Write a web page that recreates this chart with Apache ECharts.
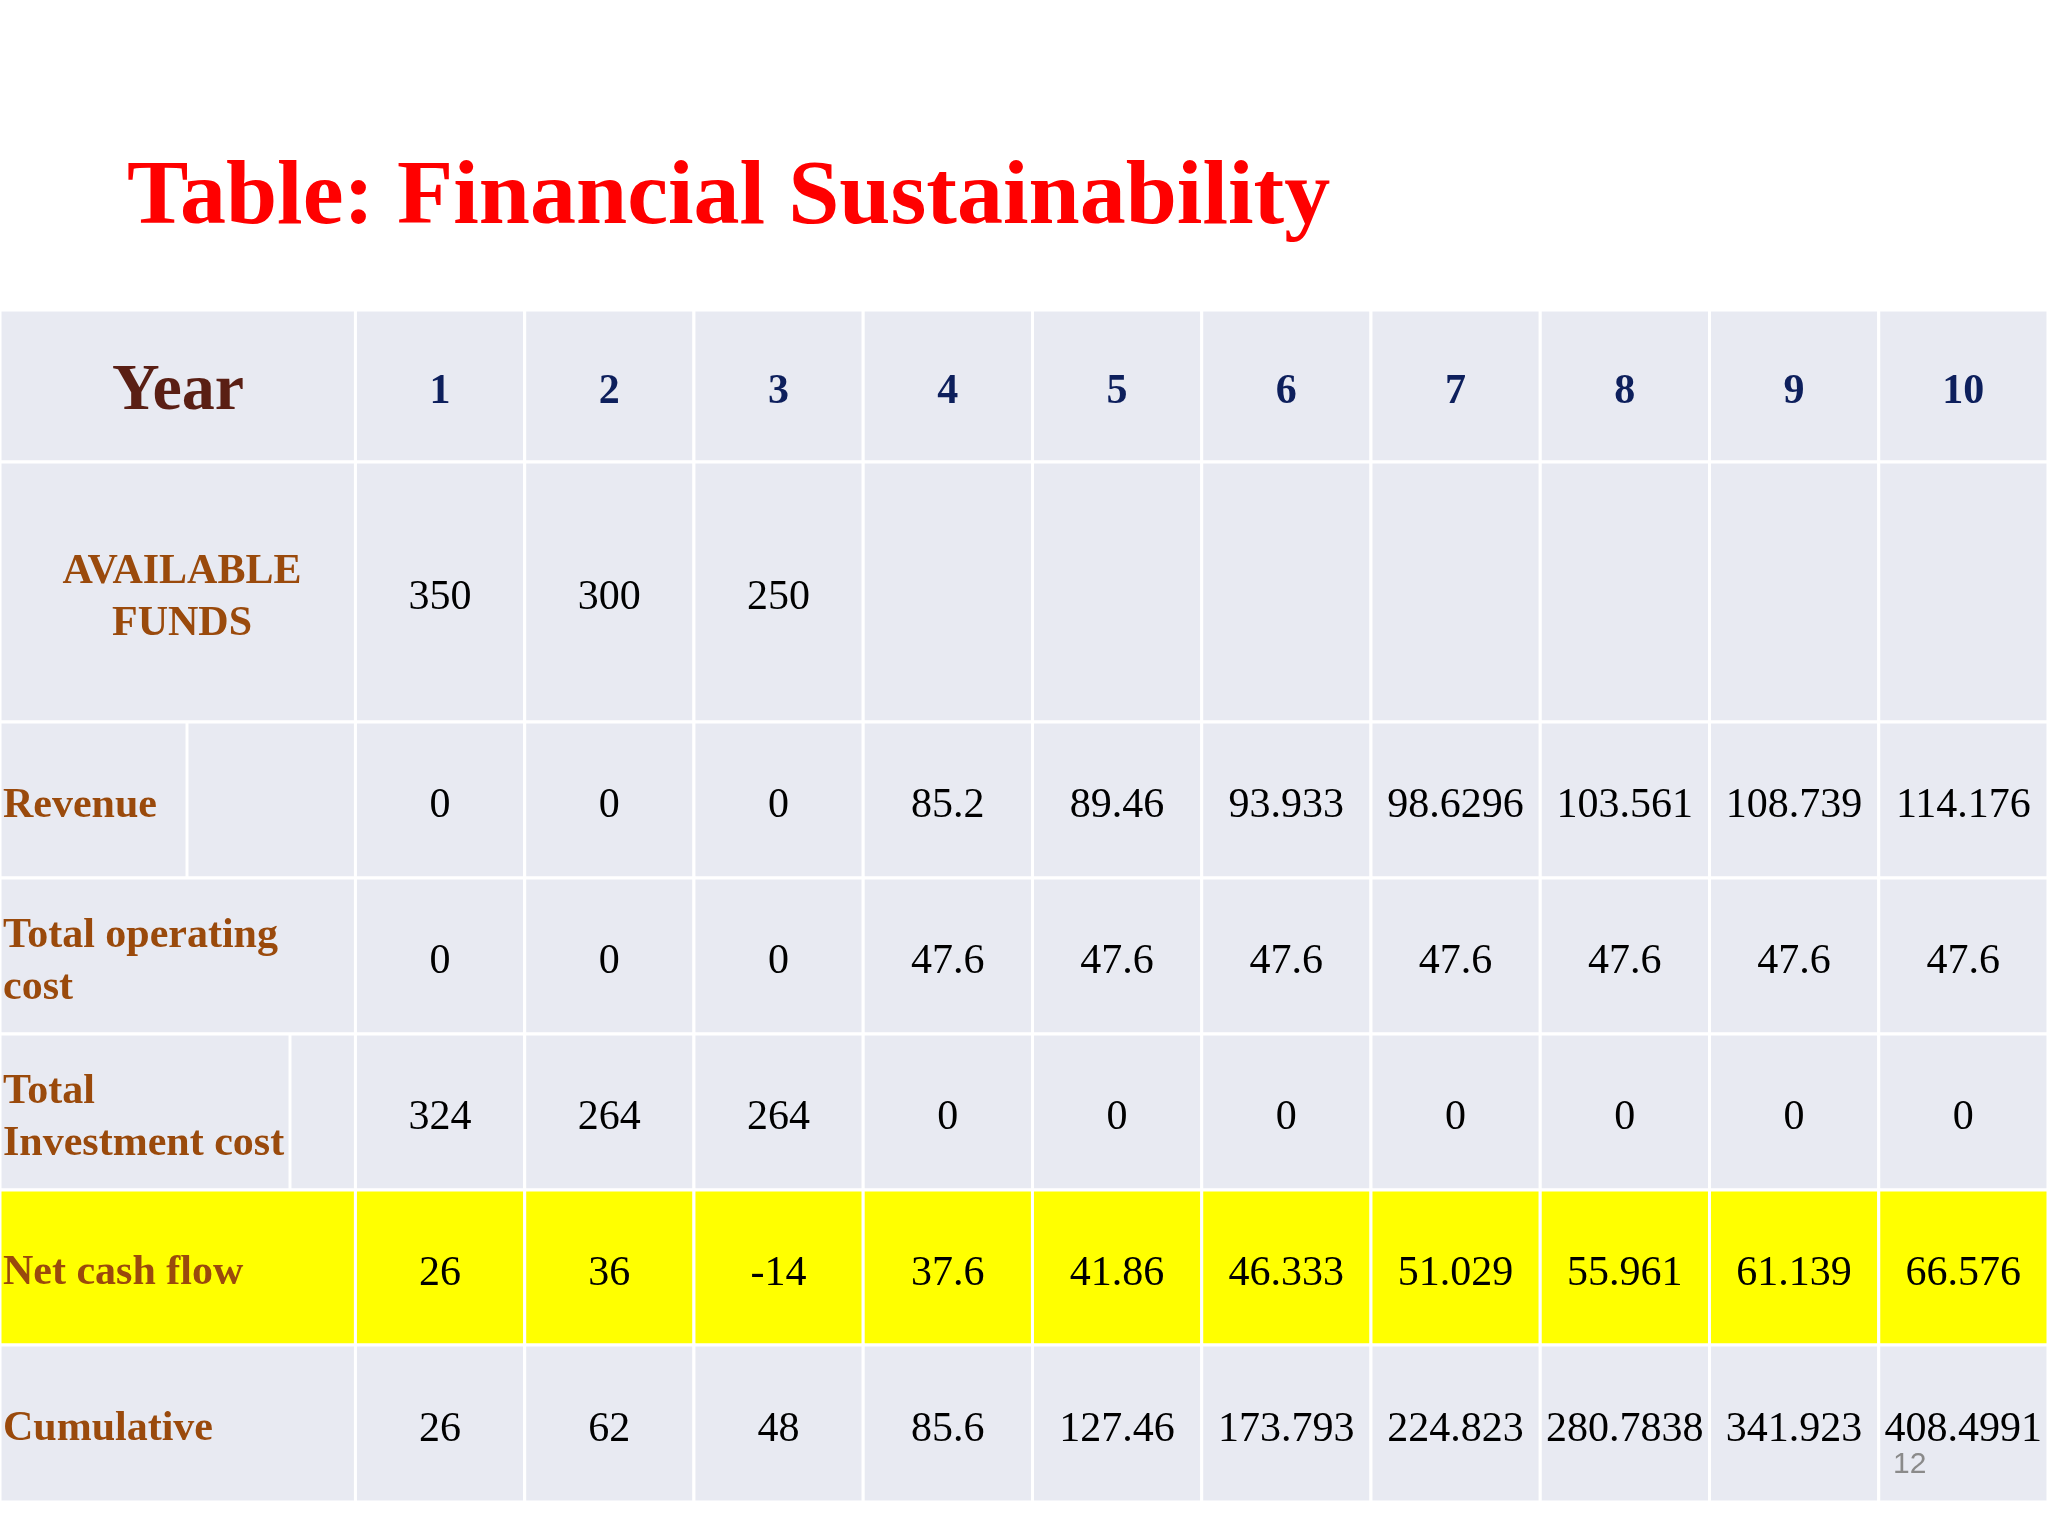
<!DOCTYPE html>
<html>
<head>
<meta charset="utf-8">
<script src="https://cdn.jsdelivr.net/npm/echarts@6/dist/echarts.min.js"></script>
<style>html,body{margin:0;padding:0;background:#fff}#main{width:2048px;height:1536px}</style>
</head>
<body>
<div id="main"></div>
<script>
// table content
var years = ['1', '2', '3', '4', '5', '6', '7', '8', '9', '10'];
var rowLabels = ['AVAILABLE\nFUNDS', 'Revenue', 'Total operating\ncost', 'Total\nInvestment cost', 'Net cash flow', 'Cumulative'];
var availableFunds = ['350', '300', '250', '', '', '', '', '', '', ''];
var revenue = ['0', '0', '0', '85.2', '89.46', '93.933', '98.6296', '103.561', '108.739', '114.176'];
var operatingCost = ['0', '0', '0', '47.6', '47.6', '47.6', '47.6', '47.6', '47.6', '47.6'];
var investmentCost = ['324', '264', '264', '0', '0', '0', '0', '0', '0', '0'];
var netCashFlow = ['26', '36', '-14', '37.6', '41.86', '46.333', '51.029', '55.961', '61.139', '66.576'];
var cumulative = ['26', '62', '48', '85.6', '127.46', '173.793', '224.823', '280.7838', '341.923', '408.4991'];

// layout: row edges in px (from table top), first column width in column units
var rowEdges = [0, 152, 412, 568, 724, 880, 1035, 1192];
var firstCol = 2.1;

var rows = [availableFunds, revenue, operatingCost, investmentCost, netCashFlow, cumulative];
var cells = [];
cells.push([-1, 0, 'Year', 'year']);
years.forEach(function (y, i) { cells.push([i, 0, y, 'head']); });
rowLabels.forEach(function (l, r) {
  cells.push([-1, r + 1, l, r === 0 ? 'labelc' : 'label']);
  rows[r].forEach(function (v, i) { cells.push([i, r + 1, v, 'val']); });
});

function colX(c) { return c < 0 ? 0 : firstCol + c; }
function colW(c) { return c < 0 ? firstCol : 1; }

var chart = echarts.init(document.getElementById('main'));
chart.setOption({
  backgroundColor: '#ffffff',
  animation: false,
  title: {
    text: 'Table: Financial Sustainability',
    left: 122, top: 148,
    textStyle: { color: '#ff0000', fontFamily: 'Liberation Serif', fontWeight: 'bold', fontSize: 92 }
  },
  grid: { left: 0, right: 0, top: 310, bottom: 34 },
  xAxis: { type: 'value', min: 0, max: firstCol + years.length, show: false },
  yAxis: { type: 'value', min: 0, max: rowEdges[rowEdges.length - 1], inverse: true, show: false },
  graphic: [{
    type: 'text', left: 1893, top: 1450, z: 100,
    style: { text: '12', fill: '#8a8a8a', font: '30px "Liberation Sans"' }
  }],
  series: [{
    type: 'custom',
    data: cells,
    renderItem: function (params, api) {
      var c = api.value(0), r = api.value(1);
      var d = cells[params.dataIndex];
      var p0 = api.coord([colX(c), rowEdges[r]]);
      var p1 = api.coord([colX(c) + colW(c), rowEdges[r + 1]]);
      var w = p1[0] - p0[0], h = p1[1] - p0[1];
      var fill = r === 5 ? '#ffff00' : '#e8eaf2';
      var kids = [{
        type: 'rect',
        shape: { x: p0[0], y: p0[1], width: w, height: h },
        style: { fill: fill, stroke: '#ffffff', lineWidth: 3 }
      }];
      var kind = d[3], tx = p0[0] + w / 2, align = 'center';
      var font = '42px "Liberation Serif"', color = '#000000';
      if (kind === 'year') { font = 'bold 66px "Liberation Serif"'; color = '#5a1f14'; tx = 178; }
      if (kind === 'head') { font = 'bold 42px "Liberation Serif"'; color = '#0d1f5c'; }
      if (kind === 'labelc') { font = 'bold 42px "Liberation Serif"'; color = '#9a4a0c'; tx = 182; }
      if (kind === 'label') { font = 'bold 42px "Liberation Serif"'; color = '#9a4a0c'; tx = 3; align = 'left'; }
      kids.push({
        type: 'text',
        style: {
          x: tx, y: p0[1] + h / 2 + 6, text: d[2], font: font, fill: color,
          align: align, verticalAlign: 'middle', lineHeight: 52
        }
      });
      // inner split lines in label column
      if (c < 0 && (r === 2 || r === 4)) {
        var lx = r === 2 ? 187 : 290;
        kids.push({
          type: 'line',
          shape: { x1: lx, y1: p0[1], x2: lx, y2: p1[1] },
          style: { stroke: '#ffffff', lineWidth: 3 }
        });
      }
      return { type: 'group', children: kids };
    }
  }]
});
</script>
</body>
</html>
